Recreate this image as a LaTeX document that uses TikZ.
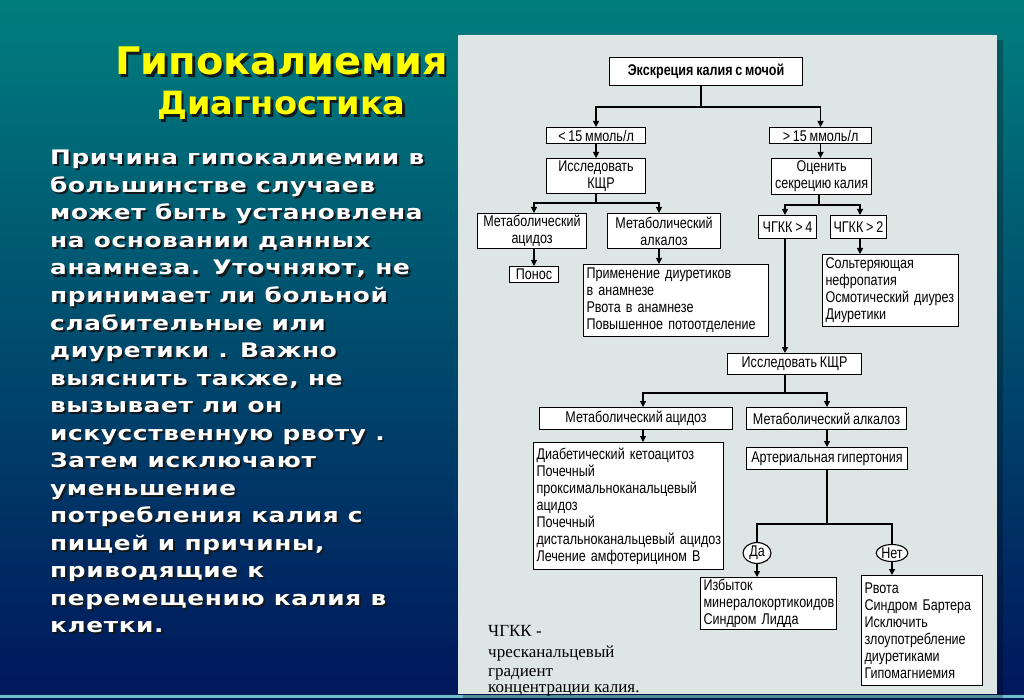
\documentclass[tikz,border=0pt]{standalone}
\usepackage{fontspec}
\setmainfont{Liberation Sans}
\newfontfamily\vfont[FakeStretch=1.24,LetterSpace=3]{DejaVu Sans}
\newfontfamily\tfont[FakeStretch=1.05]{DejaVu Sans}
\newfontfamily\nfont[FakeStretch=0.81,WordSpace=0.8]{Liberation Sans}
\newfontfamily\sfont{Liberation Serif}
\usetikzlibrary{arrows.meta,shapes.geometric}
\definecolor{bgtop}{RGB}{0,126,126}
\definecolor{bgmid}{RGB}{0,88,128}
\definecolor{bgbot}{RGB}{0,22,92}
\definecolor{panel}{RGB}{222,229,229}
\definecolor{ttl}{RGB}{255,255,0}
\definecolor{shd}{RGB}{20,25,30}
\definecolor{edge}{RGB}{110,190,200}
\tikzset{
  bx/.style={draw=black, line width=1.1pt, fill=white, inner xsep=3pt, inner ysep=0pt, anchor=north west,
    font=\nfont\fontsize{15.5}{17}\selectfont},
  cl/.style={align=center},
  ll/.style={align=left},
  arr/.style={line width=1.2pt, -{Triangle[length=6pt,width=6pt]}},
  ln/.style={line width=1.2pt},
  ell/.style={ellipse, draw=black, line width=1.1pt, fill=white, inner sep=0.5pt, minimum width=28pt, minimum height=17pt,
    font=\nfont\fontsize{15.5}{17}\selectfont},
  ttlt/.style={anchor=base west, inner sep=0pt, font=\tfont\bfseries\fontsize{38}{40}\selectfont},
  ttls/.style={anchor=base west, inner sep=0pt, font=\tfont\bfseries\fontsize{32}{34}\selectfont},
  body/.style={anchor=base west, inner sep=0pt, font=\vfont\bfseries\fontsize{20}{22}\selectfont},
  note/.style={anchor=base west, inner sep=0pt, font=\sfont\fontsize{17}{19}\selectfont},
}
\begin{document}
\begin{tikzpicture}[x=1pt,y=-1pt]
\useasboundingbox (0,0) rectangle (1024,700);
% background
\shade[top color=bgtop, middle color=bgmid, bottom color=bgbot] (0,0) rectangle (1024,700);
\draw[edge, line width=3pt] (0,696) -- (1024,696);
% panel
\fill[black, opacity=0.25] (463,40) rectangle (1003,699);
\fill[panel] (458,35) rectangle (997,694);

% title
\node[ttlt, text=shd] (t1s) at (117.5,77.5) {Гипокалиемия};
\node[ttlt, text=ttl] (t1) at (115,75) {Гипокалиемия};
\node[ttls, text=shd] (t2s) at (159.5,117.5) {Диагностика};
\node[ttls, text=ttl] (t2) at (157,115) {Диагностика};

% body text
\foreach \t [count=\i from 0] in {Причина гипокалиемии в,большинстве случаев,может быть установлена,на основании данных,{анамнеза. Уточняют, не},принимает ли больной,слабительные или,диуретики . Важно,{выяснить также, не},вызывает ли он,искусственную рвоту .,Затем исключают,уменьшение,потребления калия с,{пищей и причины,},приводящие к,перемещению калия в,клетки.}{
  \node[body, text=shd] (bs\i) at (52, 167+27.5*\i) {\t};
  \node[body, text=white] (b\i) at (50, 165+27.5*\i) {\t};
}

% flowchart boxes
\node[bx, cl, minimum width=193pt, minimum height=28pt, font=\nfont\bfseries\fontsize{15.5}{17}\selectfont] (top) at (609,57) {Экскреция калия с мочой};
\node[bx, cl, minimum width=99pt, minimum height=16pt] (lt15) at (546,127) {< 15 ммоль/л};
\node[bx, cl, minimum width=102pt, minimum height=16pt] (gt15) at (769,127) {> 15 ммоль/л};
\node[bx, cl, minimum width=99pt, minimum height=35pt] (kshr1) at (546,158) {Исследовать\\\hspace*{10pt}КЩР};
\node[bx, cl, minimum width=100pt, minimum height=36pt] (ocen) at (771,158) {Оценить\\секрецию калия};
\node[bx, cl, minimum width=109pt, minimum height=35pt] (acid1) at (477,213) {Метаболический\\ацидоз};
\node[bx, cl, minimum width=113pt, minimum height=35pt] (alk1) at (607,213) {Метаболический\\алкалоз};
\node[bx, cl, minimum width=58pt, minimum height=23pt] (chg4) at (758,215) {ЧГКК > 4};
\node[bx, cl, minimum width=54pt, minimum height=23pt] (chg2) at (830,215) {ЧГКК > 2};
\node[bx, cl, minimum width=49pt, minimum height=16pt] (ponos) at (509,266) {Понос};
\node[bx, ll, text width=179pt, minimum height=72pt] (prim) at (583,264) {\mbox{Применение диуретиков}\\в анамнезе\\Рвота в анамнезе\\\mbox{Повышенное потоотделение}};
\node[bx, ll, text width=130pt, minimum height=72pt] (solt) at (822,254) {Сольтеряющая\\нефропатия\\\mbox{Осмотический диурез}\\Диуретики};
\node[bx, cl, minimum width=134pt, minimum height=21pt] (kshr2) at (727,353) {Исследовать КЩР};
\node[bx, cl, minimum width=193pt, minimum height=22pt] (acid2) at (539,407) {Метаболический ацидоз};
\node[bx, cl, minimum width=160pt, minimum height=22pt] (alk2) at (746,407) {Метаболический алкалоз};
\node[bx, cl, minimum width=161pt, minimum height=22pt] (art) at (746,447) {Артериальная гипертония};
\node[bx, ll, text width=184pt, minimum height=127pt] (diab) at (533,442) {\mbox{Диабетический кетоацитоз}\\Почечный\\\mbox{проксимальноканальцевый}\\ацидоз\\Почечный\\\mbox{дистальноканальцевый ацидоз}\\\mbox{Лечение амфотерицином В}};
\node[bx, ll, text width=130pt, minimum height=52pt] (izb) at (700,577) {Избыток\\\mbox{минералокортикоидов}\\\mbox{Синдром Лидда}};
\node[bx, ll, text width=115pt, minimum height=110pt] (rvota) at (861,575) {Рвота\\\mbox{Синдром Бартера}\\Исключить\\\mbox{злоупотребление}\\диуретиками\\Гипомагниемия};

% junction coordinates
\coordinate (j1) at (701,107);
\coordinate (h1l) at (534,203);
\coordinate (h1r) at (659,203);
\coordinate (h2l) at (785,205);
\coordinate (h2r) at (860,205);
\coordinate (h3l) at (643,393);
\coordinate (h3r) at (827,393);
\coordinate (h4l) at (757,524);
\coordinate (h4r) at (892,524);

% connectors
\draw[ln] (top.south -| j1) -- (j1);
\draw[arr] (j1) -| (lt15.north);
\draw[arr] (j1) -| (gt15.north);
\draw[arr] (lt15.south) -- (kshr1.north);
\draw[arr] (gt15.south) -- (gt15.south |- ocen.north);

\draw[ln] (kshr1.south) -- (kshr1.south |- h1l);
\draw[arr] (h1r) -- (h1l) -- (h1l |- acid1.north);
\draw[arr] (h1l) -- (h1r) -- (h1r |- alk1.north);
\draw[arr] (h1l |- acid1.south) -- (h1l |- ponos.north);
\draw[arr] (h1r |- alk1.south) -- (h1r |- prim.north);

\draw[ln] (ocen.south -| 819,0) -- (819,205);
\draw[arr] (h2r) -- (h2l) -- (h2l |- chg4.north);
\draw[arr] (h2l) -- (h2r) -- (h2r |- chg2.north);
\draw[arr] (h2r |- chg2.south) -- (h2r |- solt.north);
\draw[arr] (h2l |- chg4.south) -- (h2l |- kshr2.north);

\draw[ln] (h2l |- kshr2.south) -- (h2l |- h3l);
\draw[arr] (h3r) -- (h3l) -- (h3l |- acid2.north);
\draw[arr] (h3l) -- (h3r) -- (h3r |- alk2.north);
\draw[arr] (h3l |- acid2.south) -- (h3l |- diab.north);
\draw[arr] (h3r |- alk2.south) -- (h3r |- art.north);

\node[ell] (da) at (757,553) {Да};
\node[ell] (net) at (892,553) {Нет};
\draw[ln] (h3r |- art.south) -- (h3r |- h4l);
\draw[ln] (h4r) -- (h4l) -- (da.north);
\draw[ln] (h4l) -- (h4r) -- (net.north);
\draw[arr] (da.south) -- (da.south |- izb.north);
\draw[arr] (net.south) -- (net.south |- rvota.north);

% footnote
\node[note] (n1) at (488,636) {ЧГКК -};
\node[note] (n2) at (488,657) {чресканальцевый};
\node[note] (n3) at (488,676) {градиент};
\node[note] (n4) at (488,692) {концентрации калия.};
\end{tikzpicture}
\end{document}
